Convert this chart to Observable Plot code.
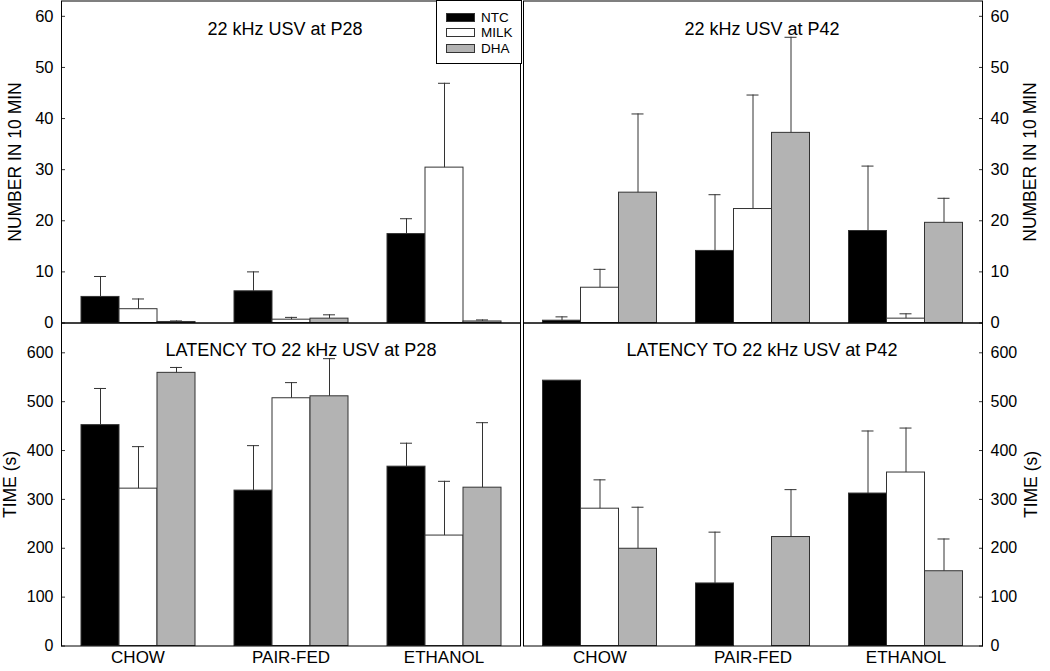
<!DOCTYPE html>
<html>
<head>
<meta charset="utf-8">
<script src="https://cdn.jsdelivr.net/npm/d3@7"></script>
<script src="https://cdn.jsdelivr.net/npm/@observablehq/plot@0.6"></script>
<style>
  html, body { margin: 0; padding: 0; background: #fff; }
  #chart { position: relative; width: 1050px; height: 671px; overflow: hidden;
           font-family: "Liberation Sans", Arial, sans-serif; }
  #chart svg { position: absolute; left: 0; top: 0; }
  .legend { position: absolute; left: 436px; top: 0; width: 84px; height: 62px;
            border: 1px solid #000; background: #fff; z-index: 5; }
  .legend .sw { position: absolute; left: 9px; width: 29px; height: 9px;
                box-sizing: border-box; border: 1px solid #333; }
  .legend .lb { position: absolute; left: 44px; font-size: 13.5px; line-height: 13px; color: #000; }
</style>
</head>
<body>
<div id="chart"></div>
<script>
// ---- data (values listed category by category; within each: NTC, MILK, DHA) ----
const categories = ["CHOW", "PAIR-FED", "ETHANOL"];
const series = ["NTC", "MILK", "DHA"];
const seriesColors = ["#000000", "#ffffff", "#b3b3b3"];

const usvP28Mean = [5.1, 2.7, 0.2,   6.2, 0.65, 0.85,   17.4, 30.4, 0.3];
const usvP28Sem  = [4.0, 2.0, 0.2,   3.8, 0.45, 0.75,   3.0, 16.5, 0.3];
const usvP42Mean = [0.45, 6.9, 25.5,  14.1, 22.3, 37.2,  18.0, 0.85, 19.6];
const usvP42Sem  = [0.75, 3.6, 15.4,  11.0, 22.3, 18.7,  12.7, 0.95, 4.8];
const latP28Mean = [452, 322, 559,   318, 507, 511,   367, 226, 324];
const latP28Sem  = [75, 86, 11,      92, 32, 77,      48, 111, 133];
const latP42Mean = [543, 281, 199,   128, null, 223,  312, 355, 153];
const latP42Sem  = [0, 59, 85,       105, null, 97,   128, 91, 66];

const countTicks = [0, 10, 20, 30, 40, 50, 60];
const timeTicks = [0, 100, 200, 300, 400, 500, 600];

const titles = ["22 kHz USV at P28", "22 kHz USV at P42",
                "LATENCY TO 22 kHz USV at P28", "LATENCY TO 22 kHz USV at P42"];
const yLabels = ["NUMBER IN 10 MIN", "TIME (s)"];

// ---- drawing ----
const W = 1050, H = 671;
const font = '"Liberation Sans", Arial, sans-serif';

function rows(mean, sem) {
  const out = [];
  categories.forEach((c, i) => series.forEach((s, j) => {
    const k = i * series.length + j;
    if (mean[k] != null) out.push({category: c, series: s, mean: mean[k], sem: sem[k]});
  }));
  return out;
}

function panel(o) {
  const data = rows(o.mean, o.sem);
  const errs = data.filter(d => d.sem > 0);
  const marks = [
    Plot.barY(data, {fx: "category", x: "series", y: "mean", fill: "series",
                     stroke: "#333", strokeWidth: 1}),
    Plot.ruleX(errs, {fx: "category", x: "series", y1: "mean", y2: d => d.mean + d.sem,
                      stroke: "#333", strokeWidth: 1}),
    Plot.tickY(errs, {fx: "category", x: "series", y: d => d.mean + d.sem,
                      stroke: "#333", strokeWidth: 1, insetLeft: 13, insetRight: 13}),
    Plot.axisY({anchor: o.side, ticks: o.ticks, tickSize: -4, tickPadding: 12,
                label: null, fontSize: o.tickFont, stroke: "#333"}),
    Plot.frame({facet: "super", stroke: "#000", strokeWidth: 1}),
    Plot.text([o.title], {facet: "super", frameAnchor: "top", textAnchor: "middle",
                          dx: o.titleDx, dy: o.titleDy, fontSize: 18, fill: "#000"}),
    Plot.text([o.yLabel], {facet: "super", frameAnchor: o.side, textAnchor: "middle",
                           rotate: -90, dx: o.yLabelDx, fontSize: 17.5, fill: "#000"})
  ];
  if (o.showFx) {
    marks.push(Plot.axisFx({anchor: "bottom", tickSize: 0, tickPadding: 5, label: null,
                            fontSize: 17}));
  }
  return Plot.plot({
    width: W, height: H,
    marginLeft: o.left, marginRight: W - o.right, marginTop: o.top, marginBottom: H - o.bottom,
    style: {background: "transparent", overflow: "visible", fontFamily: font,
            fontSize: o.tickFont + "px", color: "#000"},
    fx: {domain: categories, padding: 0, ...(o.showFx ? {} : {axis: null})},
    x: {domain: series, paddingInner: 0, paddingOuter: 0.5, axis: null},
    y: {domain: [0, o.yMax]},
    color: {domain: series, range: seriesColors},
    marks
  });
}

const chart = document.getElementById("chart");
const specs = [
  {mean: usvP28Mean, sem: usvP28Sem, title: titles[0], yLabel: yLabels[0], yMax: 63, ticks: countTicks,
   side: "left", left: 60, right: 521.5, top: 0.5, bottom: 322.5, titleDx: -6, titleDy: 21,
   yLabelDx: -46, tickFont: 16.5, showFx: false},
  {mean: usvP42Mean, sem: usvP42Sem, title: titles[1], yLabel: yLabels[0], yMax: 63, ticks: countTicks,
   side: "right", left: 521.5, right: 982.5, top: 0.5, bottom: 322.5, titleDx: 9, titleDy: 21,
   yLabelDx: 48, tickFont: 16.5, showFx: false},
  {mean: latP28Mean, sem: latP28Sem, title: titles[2], yLabel: yLabels[1], yMax: 661, ticks: timeTicks,
   side: "left", left: 60, right: 521.5, top: 322.5, bottom: 645.5, titleDx: 10, titleDy: 20.4,
   yLabelDx: -51, tickFont: 16, showFx: true},
  {mean: latP42Mean, sem: latP42Sem, title: titles[3], yLabel: yLabels[1], yMax: 661, ticks: timeTicks,
   side: "right", left: 521.5, right: 983, top: 322.5, bottom: 645.5, titleDx: 9, titleDy: 20.4,
   yLabelDx: 49, tickFont: 16, showFx: true}
];
specs.forEach(s => chart.appendChild(panel(s)));

// legend box (top-left panel, upper right corner)
const legend = document.createElement("div");
legend.className = "legend";
const swatchTops = [11.7, 27.3, 43.3];
series.forEach((s, i) => {
  const sw = document.createElement("div");
  sw.className = "sw";
  sw.style.top = swatchTops[i] + "px";
  sw.style.background = seriesColors[i];
  legend.appendChild(sw);
  const lb = document.createElement("div");
  lb.className = "lb";
  lb.style.top = (swatchTops[i] - 2) + "px";
  lb.textContent = s;
  legend.appendChild(lb);
});
chart.appendChild(legend);
</script>
</body>
</html>
